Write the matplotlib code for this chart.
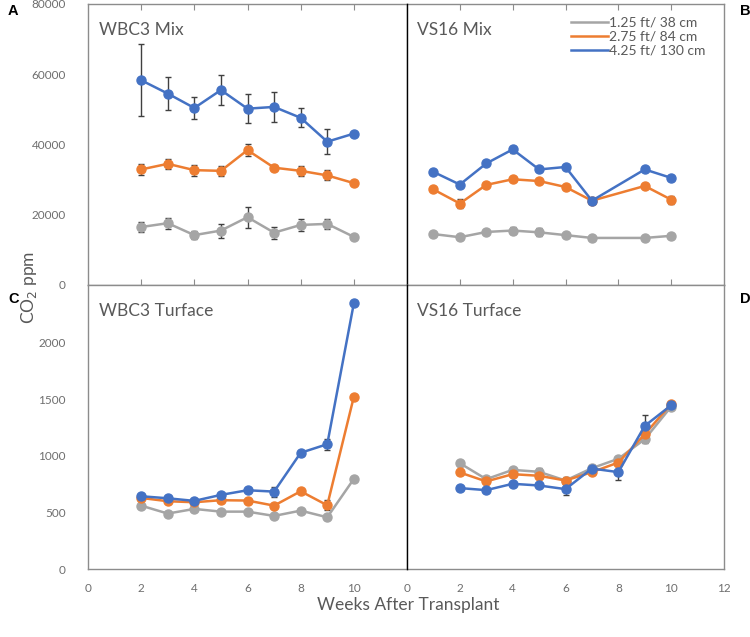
import matplotlib
matplotlib.use("Agg")
import matplotlib.pyplot as plt
from matplotlib.lines import Line2D

plt.rcParams['font.family'] = ['Lato', 'DejaVu Sans']

series_labels = ["1.25 ft/ 38 cm", "2.75 ft/ 84 cm", "4.25 ft/ 130 cm"]
colors = ["#A5A5A5", "#ED7D31", "#4472C4"]

# Panel A: WBC3 Mix
weeks_A = [2, 3, 4, 5, 6, 7, 8, 9, 10]
A_gray = [16500, 17600, 14200, 15500, 19300, 14900, 17100, 17400, 13700]
A_gray_err = [1500, 1600, 1100, 2000, 3000, 1700, 1600, 1400, 0]
A_orange = [32900, 34500, 32700, 32500, 38400, 33400, 32500, 31200, 29000]
A_orange_err = [1500, 1400, 1600, 1400, 1800, 700, 1400, 1400, 0]
A_blue = [58300, 54500, 50400, 55500, 50200, 50700, 47600, 40800, 43100]
A_blue_err = [10200, 4700, 3200, 4200, 4200, 4300, 2700, 3600, 0]

# Panel B: VS16 Mix
weeks_B = [1, 2, 3, 4, 5, 6, 7, 9, 10]
B_gray = [14500, 13600, 15100, 15500, 15000, 14200, 13400, 13400, 14000]
B_gray_err = [0, 0, 0, 900, 1100, 0, 0, 0, 0]
B_orange = [27200, 23200, 28500, 30100, 29600, 27900, 24000, 28200, 24300]
B_orange_err = [0, 1200, 0, 0, 0, 0, 0, 0, 1100]
B_blue = [32200, 28600, 34600, 38600, 32900, 33600, 24000, 32900, 30500]
B_blue_err = [0, 0, 0, 1000, 0, 0, 0, 0, 0]

# Panel C: WBC3 Turface
weeks_C = [2, 3, 4, 5, 6, 7, 8, 9, 10]
C_gray = [560, 490, 531, 507, 507, 469, 516, 457, 796]
C_gray_err = [0, 0, 0, 0, 0, 0, 0, 0, 0]
C_orange = [628, 599, 590, 608, 605, 560, 687, 563, 1522]
C_orange_err = [0, 0, 0, 0, 0, 0, 0, 45, 0]
C_blue = [643, 625, 602, 655, 696, 684, 1027, 1103, 2348]
C_blue_err = [0, 0, 0, 0, 0, 45, 20, 50, 0]

# Panel D: VS16 Turface
weeks_D = [2, 3, 4, 5, 6, 7, 8, 9, 10]
D_gray = [935, 794, 876, 859, 782, 891, 974, 1147, 1435]
D_gray_err = [0, 0, 0, 30, 30, 30, 0, 30, 0]
D_orange = [853, 774, 838, 824, 782, 856, 941, 1191, 1459]
D_orange_err = [0, 0, 0, 0, 0, 0, 0, 0, 0]
D_blue = [715, 697, 753, 738, 706, 888, 856, 1265, 1447]
D_blue_err = [0, 0, 0, 0, 50, 0, 70, 100, 0]

panel_titles = ["WBC3 Mix", "VS16 Mix", "WBC3 Turface", "VS16 Turface"]
panel_letters = ["A", "B", "C", "D"]
top_ticks = [0, 20000, 40000, 60000, 80000]
bot_ticks = [0, 500, 1000, 1500, 2000]

W, H = 750, 637
fig = plt.figure(figsize=(W / 100, H / 100), dpi=100)

def rect(x0, y0, x1, y1):
    return [x0 / W, 1 - y1 / H, (x1 - x0) / W, (y1 - y0) / H]

axA = fig.add_axes(rect(88, 4, 407, 285))
axB = fig.add_axes(rect(407, 4, 724, 285))
axC = fig.add_axes(rect(88, 285, 407, 569))
axD = fig.add_axes(rect(407, 285, 724, 569))
axes = [axA, axB, axC, axD]

spine_gray = "#8C8C8C"
text_gray = "#595959"
tick_text = "#6E6E6E"

data = [
    (weeks_A, [(A_gray, A_gray_err), (A_orange, A_orange_err), (A_blue, A_blue_err)]),
    (weeks_B, [(B_gray, B_gray_err), (B_orange, B_orange_err), (B_blue, B_blue_err)]),
    (weeks_C, [(C_gray, C_gray_err), (C_orange, C_orange_err), (C_blue, C_blue_err)]),
    (weeks_D, [(D_gray, D_gray_err), (D_orange, D_orange_err), (D_blue, D_blue_err)]),
]

for ax, (wk, sers), title in zip(axes, data, panel_titles):
    for (vals, errs), c in zip(sers, colors):
        ax.errorbar(wk, vals, yerr=errs, color=c, lw=1.8, marker='o', ms=6.5,
                    ecolor="#404040", elinewidth=1.0, capsize=2.5, capthick=1.0,
                    zorder=3)
    ax.set_xlim(0, 12)
    for s in ax.spines.values():
        s.set_color(spine_gray)
        s.set_linewidth(1.0)
    ax.tick_params(colors=spine_gray, labelcolor=tick_text, labelsize=8.5, length=4, width=0.8)
    ax.text(0.033, 0.935, title, transform=ax.transAxes, fontsize=12.5,
            color=text_gray, va='top')

for ax in (axA, axB):
    ax.set_ylim(0, 80000)
    ax.set_yticks(top_ticks)
for ax in (axC, axD):
    ax.set_ylim(0, 2510)
    ax.set_yticks(bot_ticks)

xt = [2, 4, 6, 8, 10]
for ax in (axA, axB):
    ax.set_xticks(xt)
    ax.tick_params(axis='x', direction='in', top=True, bottom=True, labelbottom=False)
axC.set_xticks([0, 2, 4, 6, 8, 10])
axD.set_xticks([0, 2, 4, 6, 8, 10, 12])
for ax in (axC, axD):
    ax.tick_params(axis='x', direction='in', top=True, bottom=True, labelbottom=True, pad=10)
    for t in ax.xaxis.get_major_ticks():
        if t.get_loc() in (0, 12):
            t.tick1line.set_visible(False)
            t.tick2line.set_visible(False)

for ax in (axA, axC):
    ax.tick_params(axis='y', left=False, right=False, labelleft=True, pad=12)
for ax in (axB, axD):
    ax.tick_params(axis='y', direction='inout', left=True, right=True, labelleft=False, length=6)
    ax.spines['left'].set_color('black')
    ax.spines['left'].set_zorder(5)
    for t in ax.yaxis.get_major_ticks():
        if t.get_loc() == 0:
            t.tick1line.set_visible(False)
            t.tick2line.set_visible(False)

handles = [Line2D([], [], color=c, lw=1.8) for c in colors]
axB.legend(handles, series_labels, loc='upper right', frameon=False, fontsize=10,
           handlelength=2.7, handletextpad=0.05, labelspacing=0.15, borderaxespad=0.5,
           labelcolor=text_gray, bbox_to_anchor=(0.98, 1.0))

# panel letters
for lx, ly, letter in [(8, 11, "A"), (740, 11, "B"), (8, 299, "C"), (740, 299, "D")]:
    fig.text(lx / W, 1 - ly / H, letter, fontsize=10.5, fontweight='bold',
             family='Liberation Sans', va='center')

fig.text(29 / W, 1 - 287 / H, "CO$_2$ ppm", rotation=90, fontsize=12.5, color=text_gray,
         ha='center', va='center')
fig.text(408 / W, 1 - 605 / H, "Weeks After Transplant", fontsize=12.5, color=text_gray,
         ha='center', va='center')

fig.savefig("out.png", dpi=100)
